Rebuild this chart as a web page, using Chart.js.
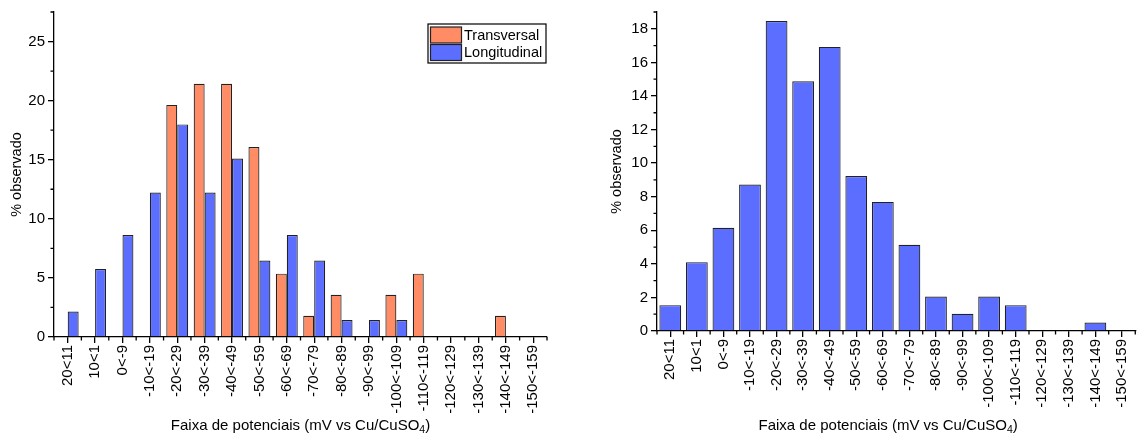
<!DOCTYPE html>
<html>
<head>
<meta charset="utf-8">
<script src="https://cdn.jsdelivr.net/npm/chart.js@4.4.0/dist/chart.umd.min.js"></script>
<style>
html, body { margin: 0; padding: 0; background: #fff; }
#wrap { position: relative; width: 1142px; height: 435px; }
.box { position: absolute; top: 0; height: 435px; }
#b1 { left: 0; width: 570px; }
#b2 { left: 570px; width: 572px; }
</style>
</head>
<body>
<div id="wrap">
  <div class="box" id="b1"><canvas id="c1"></canvas></div>
  <div class="box" id="b2"><canvas id="c2"></canvas></div>
</div>
<script>
// faixas de potencial (eixo x)
const faixas = ["20<11", "10<1", "0<-9", "-10<-19", "-20<-29", "-30<-39", "-40<-49", "-50<-59", "-60<-69",
  "-70<-79", "-80<-89", "-90<-99", "-100<-109", "-110<-119", "-120<-129", "-130<-139", "-140<-149", "-150<-159"];

// % observado - grafico da esquerda
const transversal = [0, 0, 0, 0, 19.64, 21.43, 21.43, 16.07, 5.36, 1.79, 3.57, 0, 3.57, 5.36, 0, 0, 1.79, 0];
const longitudinal = [2.16, 5.76, 8.63, 12.23, 17.99, 12.23, 15.11, 6.47, 8.63, 6.47, 1.44, 1.44, 1.44, 0, 0, 0, 0, 0];

// % observado - grafico da direita (todas as medidas)
const todas = [1.54, 4.10, 6.15, 8.72, 18.46, 14.87, 16.92, 9.23, 7.69, 5.13, 2.05, 1.03, 2.05, 1.54, 0, 0, 0.51, 0];

const ticksEsq = [0, 5, 10, 15, 20, 25];
const ticksDir = [0, 2, 4, 6, 8, 10, 12, 14, 16, 18];

const FONTE = "'Liberation Sans', Arial, sans-serif";
const LARANJA = "#ff8c64";
const AZUL = "#5b6eff";
const tituloX = "Faixa de potenciais (mV vs Cu/CuSO";

// marcas menores + titulo do eixo x com subscrito
const extras = {
  id: "extras",
  afterDraw(chart) {
    const { ctx, scales: { x, y }, chartArea } = chart;
    const passo = y.options.passoMenor;
    ctx.save();
    ctx.strokeStyle = "#000";
    ctx.lineWidth = 1.3;
    ctx.beginPath();
    for (let v = passo; v <= y.max + 0.001; v += passo * 2) {
      const py = y.getPixelForValue(v);
      ctx.moveTo(y.right, py);
      ctx.lineTo(y.right - 3.5, py);
    }
    for (let i = 0; i <= faixas.length; i++) {
      const px = x.getPixelForValue(i - 0.5);
      ctx.moveTo(px, x.top);
      ctx.lineTo(px, x.top + 3.5);
    }
    ctx.stroke();

    // titulo x
    ctx.fillStyle = "#000";
    ctx.textBaseline = "alphabetic";
    ctx.font = "15px " + FONTE;
    const w1 = ctx.measureText(tituloX).width;
    ctx.font = "10.5px " + FONTE;
    const w2 = ctx.measureText("4").width;
    ctx.font = "15px " + FONTE;
    const w3 = ctx.measureText(")").width;
    const centro = (chartArea.left + chartArea.right) / 2 + chart.options.deslocTitulo;
    const x0 = centro - (w1 + w2 + w3) / 2;
    const base = 430;
    ctx.fillText(tituloX, x0, base);
    ctx.font = "10.5px " + FONTE;
    ctx.fillText("4", x0 + w1, base + 3);
    ctx.font = "15px " + FONTE;
    ctx.fillText(")", x0 + w1 + w2, base);
    ctx.restore();
  }
};

// legenda com moldura
const legenda = {
  id: "legenda",
  afterDraw(chart) {
    if (chart.data.datasets.length < 2) return;
    const { ctx, chartArea } = chart;
    const bx = chartArea.right - 119, by = chartArea.top + 12, bw = 118, bh = 39;
    ctx.save();
    ctx.fillStyle = "#fff";
    ctx.fillRect(bx, by, bw, bh);
    ctx.strokeStyle = "#000";
    ctx.lineWidth = 1.2;
    ctx.strokeRect(bx, by, bw, bh);
    ctx.font = "14.5px " + FONTE;
    ctx.textBaseline = "middle";
    chart.data.datasets.forEach((ds, i) => {
      const sy = by + 3 + i * 17.5;
      ctx.fillStyle = ds.backgroundColor;
      ctx.fillRect(bx + 2.5, sy, 31, 16);
      ctx.strokeStyle = "#222";
      ctx.lineWidth = 1.2;
      ctx.strokeRect(bx + 2.5, sy, 31, 16);
      ctx.fillStyle = "#000";
      ctx.fillText(ds.label, bx + 36, sy + 8.5);
    });
    ctx.restore();
  }
};

function eixos(ticksY, maxY, passoMenor, larguraY, alturaX, padTitulo) {
  return {
    x: {
      type: "category",
      offset: true,
      grid: { display: true, drawOnChartArea: false, drawTicks: true, tickLength: 6, color: "#000", lineWidth: 1.3, offset: false },
      border: { display: true, color: "#000", width: 1.3 },
      ticks: { color: "#000", font: { size: 15, family: FONTE }, minRotation: 90, maxRotation: 90, autoSkip: false, padding: 2 },
      afterFit: s => { s.height = alturaX; }
    },
    y: {
      min: 0,
      max: maxY,
      passoMenor: passoMenor,
      grid: { display: true, drawOnChartArea: false, drawTicks: true, tickLength: 6, color: "#000", lineWidth: 1.3 },
      border: { display: true, color: "#000", width: 1.3 },
      ticks: { color: "#000", font: { size: 15, family: FONTE }, padding: 3 },
      afterBuildTicks: s => { s.ticks = ticksY.map(v => ({ value: v })); },
      afterFit: s => { s.width = larguraY; },
      title: { display: true, text: "% observado", color: "#000", font: { size: 14.5, family: FONTE }, padding: { top: padTitulo, bottom: 0 } }
    }
  };
}

new Chart(document.getElementById("c1"), {
  type: "bar",
  data: {
    labels: faixas,
    datasets: [
      { label: "Transversal", data: transversal, backgroundColor: LARANJA, borderColor: "#222", borderWidth: 1.2, categoryPercentage: 0.8, barPercentage: 1 },
      { label: "Longitudinal", data: longitudinal, backgroundColor: AZUL, borderColor: "#222", borderWidth: 1.2, categoryPercentage: 0.8, barPercentage: 1 }
    ]
  },
  options: {
    responsive: true,
    maintainAspectRatio: false,
    animation: false,
    deslocTitulo: 0,
    layout: { padding: { top: 12, right: 23, left: 0, bottom: 0 } },
    plugins: { legend: { display: false }, tooltip: { enabled: false } },
    scales: eixos(ticksEsq, 27.5, 2.5, 54, 98, 8)
  },
  plugins: [extras, legenda]
});

new Chart(document.getElementById("c2"), {
  type: "bar",
  data: {
    labels: faixas,
    datasets: [
      { label: "% observado", data: todas, backgroundColor: AZUL, borderColor: "#222", borderWidth: 1.2, categoryPercentage: 1, barPercentage: 0.82 }
    ]
  },
  options: {
    responsive: true,
    maintainAspectRatio: false,
    animation: false,
    deslocTitulo: -8,
    layout: { padding: { top: 10, right: 1, left: 0, bottom: 0 } },
    plugins: { legend: { display: false }, tooltip: { enabled: false } },
    scales: eixos(ticksDir, 19, 1, 87, 104, 38)
  },
  plugins: [extras, legenda]
});
</script>
</body>
</html>
